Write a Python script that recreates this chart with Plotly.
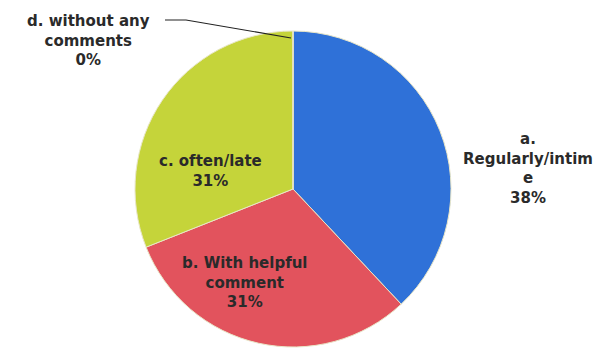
import plotly.graph_objects as go

# categories and values
labels = ['a. Regularly/intime', 'b. With helpful comment', 'c. often/late', 'd. without any comments']
label_text = ['a.<br>Regularly/intim<br>e', 'b. With helpful<br>comment', 'c. often/late', 'd. without any<br>comments']
values = [38, 31, 31, 0]
colors = ['#2f71d8', '#e2535d', '#c5d43a', '#7f5fa8']

# the page has an 8px body margin, so the figure is drawn a bit smaller
OFF = 8
W, H = 607 - OFF, 349 - OFF

def px(x, y):
    # screen pixel -> paper coordinates
    return (x - OFF) / W, 1 - (y - OFF) / H

fig = go.Figure()
dx0, _ = px(135, 0)
dx1, _ = px(451, 0)
_, dy1 = px(0, 31)
_, dy0 = px(0, 347)
fig.add_trace(go.Pie(
    labels=labels,
    values=values,
    sort=False,
    direction='clockwise',
    rotation=0,
    textinfo='none',
    hoverinfo='label+percent',
    marker=dict(colors=colors, line=dict(color='#e8e6c8', width=1)),
    domain=dict(x=[dx0, dx1], y=[dy0, dy1]),
    showlegend=False,
))

# label positions (screen pixels) for each slice
label_pos = [(528, 168), (245, 282), (210, 171), (88, 40)]
total = sum(values)
font = dict(family='DejaVu Sans', size=15, color='#2a2a2a', weight='bold')
for txt, v, (lx, ly) in zip(label_text, values, label_pos):
    x, y = px(lx, ly)
    fig.add_annotation(
        x=x, y=y, xref='paper', yref='paper',
        xanchor='center', yanchor='middle',
        text='%s<br>%d%%' % (txt, round(100 * v / total)),
        showarrow=False, font=font, align='center',
    )

# leader line for the 0% slice
x0, y0 = px(165, 20)
x1, y1 = px(186, 20)
x2, y2 = px(291, 38)
fig.add_shape(type='path', xref='paper', yref='paper',
              path='M %f,%f L %f,%f L %f,%f' % (x0, y0, x1, y1, x2, y2),
              line=dict(color='#222222', width=1.2))

fig.update_layout(
    width=W, height=H,
    margin=dict(l=0, r=0, t=0, b=0),
    paper_bgcolor='white',
    plot_bgcolor='white',
)
fig.write_html('out.html')
